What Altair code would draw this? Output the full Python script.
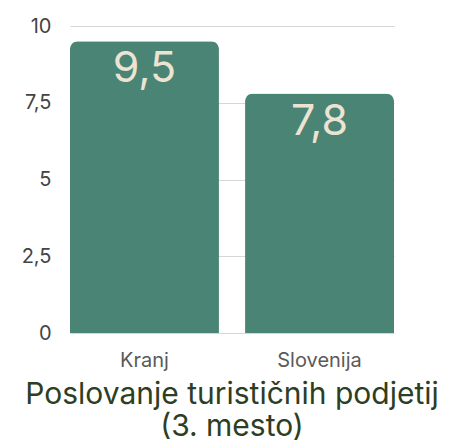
import altair as alt
import pandas as pd

categories = ["Kranj", "Slovenija"]
values = [9.5, 7.8]
y_ticks = [0, 2.5, 5, 7.5, 10]
title_lines = ["Poslovanje turističnih podjetij", "(3. mesto)"]

df = pd.DataFrame({"kraj": categories, "vrednost": values})
df["oznaka"] = [f"{v:.1f}".replace(".", ",") for v in values]

FONT = "Inter"

base = alt.Chart(df).encode(
    x=alt.X("kraj:N", sort=categories,
            scale=alt.Scale(paddingInner=0.149, paddingOuter=0),
            axis=alt.Axis(title=None, labelAngle=0, labelFontSize=20, labelColor="#5a5a5a",
                          labelFont=FONT, ticks=False, domain=False, labelPadding=17)),
)

bars = base.mark_bar(color="#4a8474", cornerRadiusTopLeft=8, cornerRadiusTopRight=8).encode(
    y=alt.Y("vrednost:Q", scale=alt.Scale(domain=[0, 10]),
            axis=alt.Axis(title=None, values=y_ticks, format=".1~f", labelFontSize=20,
                          labelColor="#444444", labelFont=FONT, ticks=False, domain=False,
                          labelPadding=19, gridColor="#d6d6d6", gridWidth=1.2,
                          labelExpr="replace(datum.label, '.', ',')"))
)

text = base.mark_text(baseline="alphabetic", dy=41, fontSize=43, color="#ede3d3", font=FONT).encode(
    y=alt.Y("vrednost:Q"),
    text="oznaka:N",
)

chart = (bars + text).properties(
    width=324, height=307,
    title=alt.TitleParams(text=title_lines, orient="bottom", anchor="middle", fontSize=30,
                          font=FONT, fontWeight="normal", color="#2d3e22", offset=10,
                          lineHeight=32),
    padding={"left": 13, "top": 8, "right": 2, "bottom": 0},
).configure_view(stroke=None)

chart.save("out.html", embed_options={"renderer": "svg", "actions": False})
